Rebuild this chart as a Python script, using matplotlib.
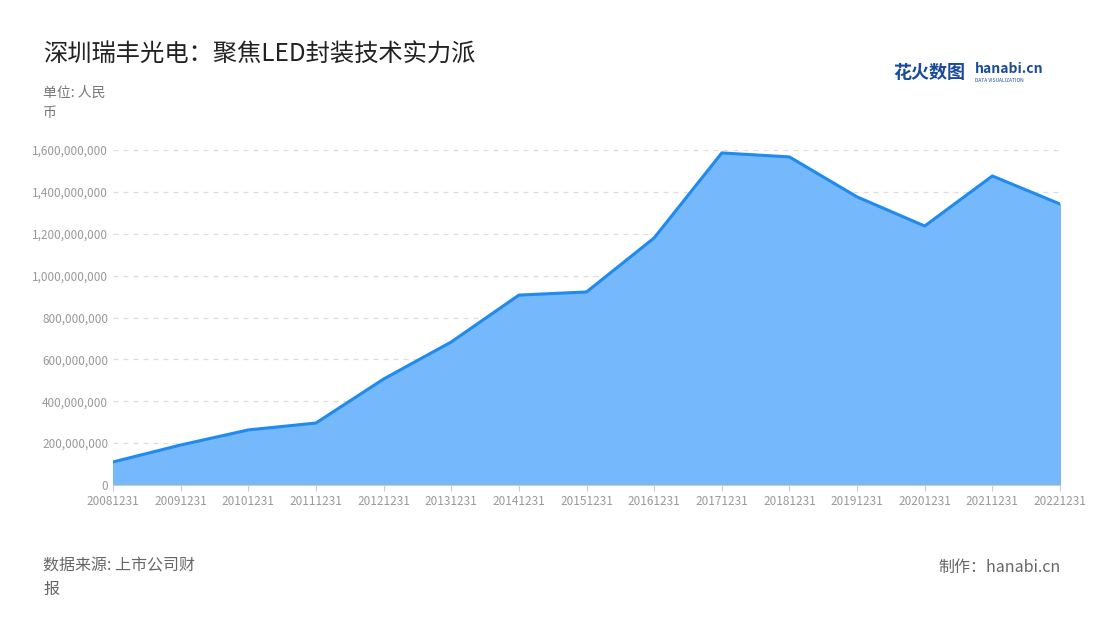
import matplotlib
matplotlib.use("Agg")
import matplotlib.pyplot as plt
from matplotlib.ticker import FuncFormatter

plt.rcParams['font.family'] = ['Noto Sans CJK SC', 'DejaVu Sans']

years = ["20081231","20091231","20101231","20111231","20121231","20131231","20141231",
         "20151231","20161231","20171231","20181231","20191231","20201231","20211231","20221231"]
values = [110e6,191e6,263e6,296e6,506e6,683e6,907e6,922e6,1180e6,1586e6,1567e6,1376e6,1237e6,1476e6,1342e6]

fig = plt.figure(figsize=(11, 6.2), dpi=100)
ax = fig.add_axes([113/1100, 1-485/620, (1060-113)/1100, (485-150)/620])
x = list(range(len(years)))
ax.fill_between(x, values, color="#75b8fb", zorder=2)
ax.plot(x, values, color="#1f8bf0", lw=2.2, zorder=3)
ax.set_xlim(0, len(years)-1)
ax.set_ylim(0, 1.6e9)
ax.set_yticks([i*2e8 for i in range(9)])
ax.yaxis.set_major_formatter(FuncFormatter(lambda v, p: f"{int(v):,}"))
ax.set_xticks(x)
ax.set_xticklabels(years)
ax.tick_params(axis='both', colors="#999999", labelsize=8.5, length=0)
ax.tick_params(axis='x', length=4, color="#cccccc")
ax.grid(axis='y', ls=(0, (4, 4)), color="#dddddd", lw=0.9, zorder=0)
for s in ["top", "right", "left"]:
    ax.spines[s].set_visible(False)
ax.spines["bottom"].set_color("#cccccc")

fig.text(43/1100, 1-55/620, "深圳瑞丰光电：聚焦LED封装技术实力派", fontsize=17.5, color="#222222", va="center")
fig.text(43/1100, 1-103/620, "单位: 人民\n币", fontsize=10, color="#777777", va="center", linespacing=1.5)
fig.text(43/1100, 1-578/620, "数据来源: 上市公司财\n报", fontsize=11.5, color="#666666", va="center", linespacing=1.5)
fig.text(1061/1100, 1-567/620, "制作：hanabi.cn", fontsize=11.5, color="#666666", va="center", ha="right")
fig.text(893/1100, 1-72/620, "花火数图", fontsize=13, color="#1a4a9c", va="center", weight="bold")
fig.text(975/1100, 1-69/620, "hanabi.cn", fontsize=10, color="#1a4a9c", va="center", weight="bold")
fig.text(975/1100, 1-80/620, "DATA VISUALIZATION", fontsize=3.5, color="#1a4a9c", va="center")

fig.savefig("out.png")
